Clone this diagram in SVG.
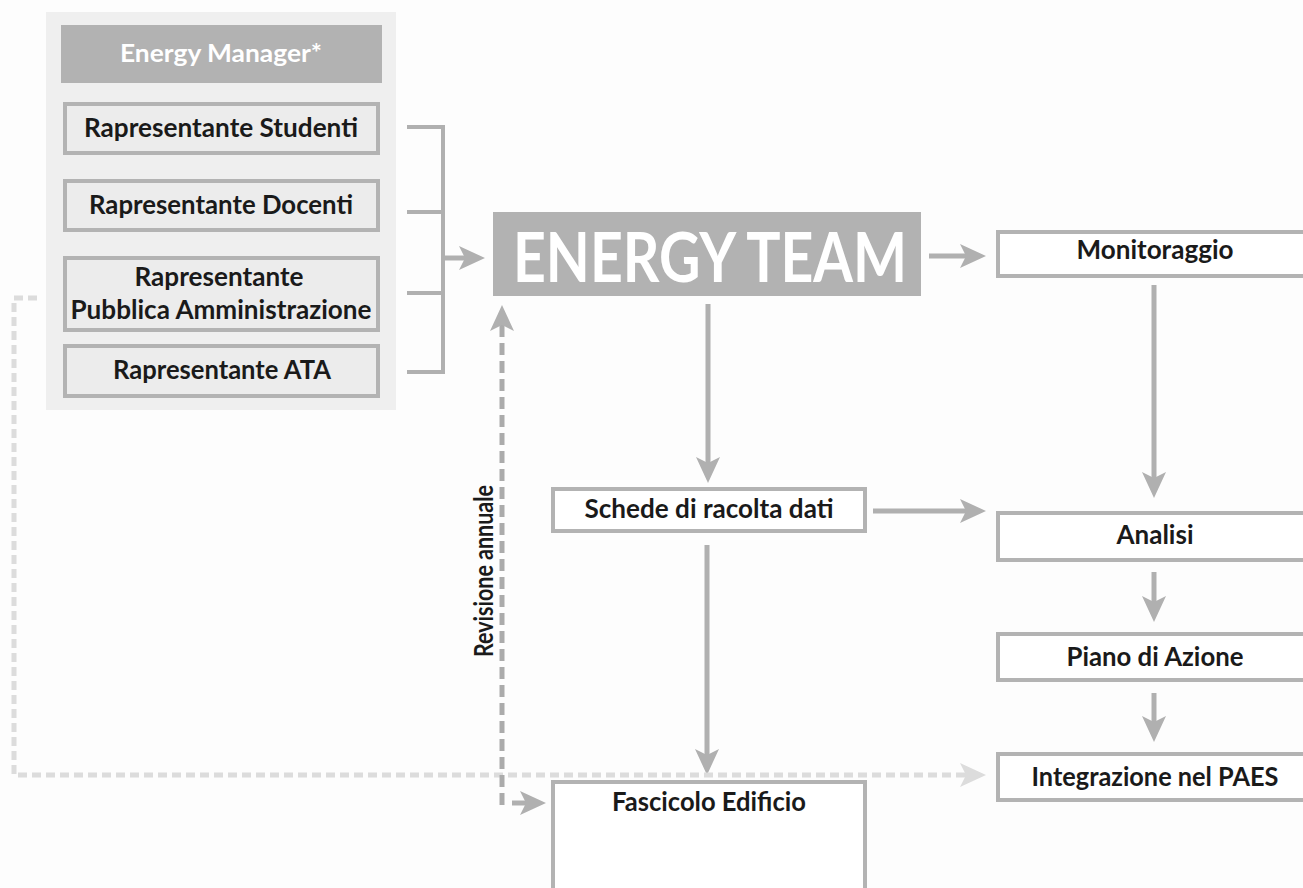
<svg xmlns="http://www.w3.org/2000/svg" width="1303" height="888" viewBox="0 0 1303 888">
<style>
.lbl{font-family:Lato,"Open Sans","Liberation Sans",sans-serif;font-weight:700;font-size:26px;fill:#1a1a1a;text-anchor:middle}
.wht{font-family:Lato,"Open Sans","Liberation Sans",sans-serif;font-weight:700;fill:#ffffff;text-anchor:middle}
.mem{fill:#ececec;stroke:#b3b3b3;stroke-width:4}
.box{fill:#ffffff;stroke:#b3b3b3;stroke-width:4}
.ln{fill:none;stroke:#b0b0b0;stroke-width:5}
.br{fill:none;stroke:#b0b0b0;stroke-width:4}
.dash{fill:none;stroke:#ababab;stroke-width:5;stroke-dasharray:12 6}
.ldash{fill:none;stroke:#dcdcdc;stroke-width:5;stroke-dasharray:9 5}
</style>
<defs>
<marker id="ah" markerUnits="userSpaceOnUse" markerWidth="30" markerHeight="30" refX="0" refY="0" orient="auto" overflow="visible">
<path d="M-6,-12 L20,0 L-6,12 L0,0 Z" fill="#b0b0b0"/>
</marker>
<marker id="ahl" markerUnits="userSpaceOnUse" markerWidth="30" markerHeight="30" refX="0" refY="0" orient="auto" overflow="visible">
<path d="M-6,-12 L20,0 L-6,12 L0,0 Z" fill="#dcdcdc"/>
</marker>
</defs>
<rect x="0" y="0" width="1303" height="888" fill="#fdfdfd"/>

<g id="team-panel">
<rect x="46" y="12" width="350" height="398" fill="#efefef"/>
</g>
<g id="energy-manager">
<rect x="61" y="25" width="321" height="58" fill="#b2b2b2"/>
<text class="wht" x="221" y="62" font-size="24" textLength="202" lengthAdjust="spacingAndGlyphs">Energy Manager*</text>
</g>
<g id="rap-studenti">
<rect class="mem" x="65" y="104" width="313" height="49"/>
<text class="lbl" x="221" y="137" textLength="274" lengthAdjust="spacingAndGlyphs">Rapresentante Studenti</text>
</g>
<g id="rap-docenti">
<rect class="mem" x="65" y="181" width="313" height="49"/>
<text class="lbl" x="221" y="214" textLength="264" lengthAdjust="spacingAndGlyphs">Rapresentante Docenti</text>
</g>
<g id="rap-pa">
<rect class="mem" x="65" y="258" width="313" height="72"/>
<text class="lbl" x="219" y="286" textLength="169" lengthAdjust="spacingAndGlyphs">Rapresentante</text>
<text class="lbl" x="221" y="319" textLength="301" lengthAdjust="spacingAndGlyphs">Pubblica Amministrazione</text>
</g>
<g id="rap-ata">
<rect class="mem" x="65" y="346" width="313" height="50"/>
<text class="lbl" x="222" y="379" textLength="218" lengthAdjust="spacingAndGlyphs">Rapresentante ATA</text>
</g>

<g id="energy-team">
<rect x="493" y="212" width="428" height="84" fill="#b2b2b2"/>
<text class="wht" x="710" y="282" font-size="68" textLength="394" lengthAdjust="spacingAndGlyphs">ENERGY TEAM</text>
</g>
<g id="monitoraggio">
<rect class="box" x="998" y="232" width="320" height="44"/>
<text class="lbl" x="1155" y="259" textLength="157" lengthAdjust="spacingAndGlyphs">Monitoraggio</text>
</g>
<g id="analisi">
<rect class="box" x="998" y="513" width="320" height="47"/>
<text class="lbl" x="1155" y="544" textLength="77" lengthAdjust="spacingAndGlyphs">Analisi</text>
</g>
<g id="piano">
<rect class="box" x="998" y="634" width="320" height="46"/>
<text class="lbl" x="1155" y="666" textLength="177" lengthAdjust="spacingAndGlyphs">Piano di Azione</text>
</g>
<g id="integrazione">
<rect class="box" x="998" y="754" width="320" height="46"/>
<text class="lbl" x="1155" y="786" textLength="247" lengthAdjust="spacingAndGlyphs">Integrazione nel PAES</text>
</g>
<g id="schede">
<rect class="box" x="553" y="489" width="312" height="42"/>
<text class="lbl" x="709" y="518" textLength="249" lengthAdjust="spacingAndGlyphs">Schede di racolta dati</text>
</g>
<g id="fascicolo">
<rect class="box" x="553" y="782" width="312" height="130"/>
<text class="lbl" x="709" y="811" textLength="194" lengthAdjust="spacingAndGlyphs">Fascicolo Edificio</text>
</g>
<g id="revisione-label">
<text class="lbl" font-size="23" transform="translate(493,571) rotate(-90)" textLength="172" lengthAdjust="spacingAndGlyphs">Revisione annuale</text>
</g>

<g id="connectors">
<path class="br" d="M407,127 H443 V372 H407 M407,212 H443 M407,293 H443"/>
<path class="ln" d="M443,258 H465" marker-end="url(#ah)"/>
<path class="ln" d="M929,256 H966" marker-end="url(#ah)"/>
<path class="ln" d="M708,304 V463" marker-end="url(#ah)"/>
<path class="ln" d="M1154,285 V478" marker-end="url(#ah)"/>
<path class="ln" d="M873,511 H966" marker-end="url(#ah)"/>
<path class="ln" d="M1154,572 V602" marker-end="url(#ah)"/>
<path class="ln" d="M1154,693 V722" marker-end="url(#ah)"/>
<path class="ln" d="M707,545 V755" marker-end="url(#ah)"/>
<path class="ldash" d="M37,298 H14 V775 H962"/>
<path d="M962,775 h4" stroke="#dcdcdc" stroke-width="5" marker-end="url(#ahl)"/>
<path class="dash" d="M502,805 V330"/>
<path d="M502,330 V325" stroke="#ababab" stroke-width="5" marker-end="url(#ah)"/>
<path class="ln" d="M512,803 H526" marker-end="url(#ah)"/>
</g>
</svg>
